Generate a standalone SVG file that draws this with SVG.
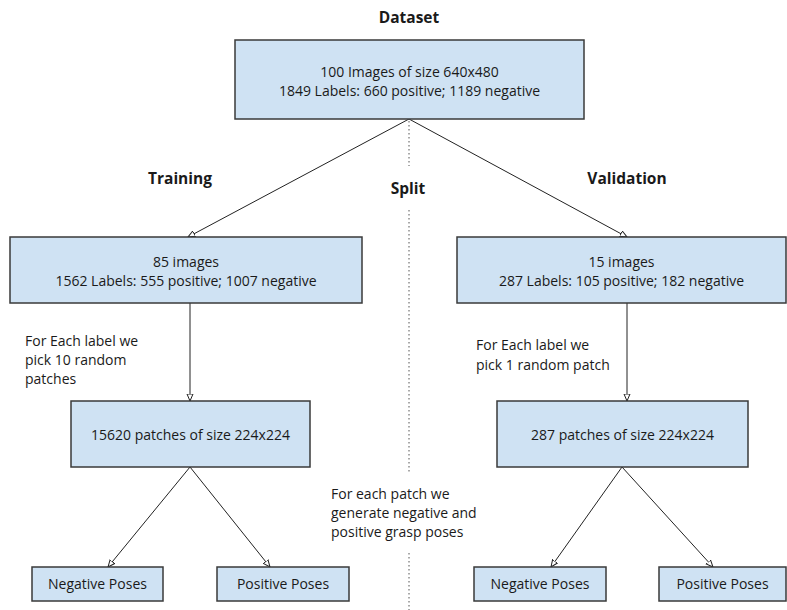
<svg xmlns="http://www.w3.org/2000/svg" width="787" height="610" viewBox="0 0 787 610">
<style>
.box{fill:#cfe2f3;stroke:#3a3a3a;stroke-width:1.5}
.t{font-family:"Open Sans","Liberation Sans",sans-serif;font-size:14px;fill:#1a1a1a;text-anchor:middle}
.p{font-family:"Open Sans","Liberation Sans",sans-serif;font-size:14px;fill:#1a1a1a}
.h{font-family:"Open Sans","Liberation Sans",sans-serif;font-size:15.5px;font-weight:bold;fill:#1a1a1a;text-anchor:middle}
.c{stroke:#222;stroke-width:1;fill:none;marker-end:url(#a)}
.d{stroke:#555;stroke-width:1;stroke-dasharray:1.5 2.5;fill:none}
</style>
<defs>
<marker id="a" markerWidth="8" markerHeight="8" refX="7" refY="4" orient="auto" markerUnits="userSpaceOnUse">
<path d="M0,1 L7,4 L0,7 Z" fill="#fff" stroke="#222" stroke-width="1"/>
</marker>
</defs>
<rect width="787" height="610" fill="#fff"/>
<g id="labels">
<text class="h" x="409" y="23">Dataset</text>
<text class="h" x="180" y="184">Training</text>
<text class="h" x="408" y="194">Split</text>
<text class="h" x="627" y="184">Validation</text>
<text class="p" x="25" y="346">For Each label we</text>
<text class="p" x="25" y="365">pick 10 random</text>
<text class="p" x="25" y="384">patches</text>
<text class="p" x="476" y="350">For Each label we</text>
<text class="p" x="476" y="370">pick 1 random patch</text>
<text class="p" x="331" y="499">For each patch we</text>
<text class="p" x="331" y="518">generate negative and</text>
<text class="p" x="331" y="537">positive grasp poses</text>
</g>
<g id="connectors">
<path class="d" d="M409,121 V166"/>
<path class="d" d="M409,210 V472"/>
<path class="d" d="M409,553 V610"/>
<path class="c" d="M409,119 L188,237"/>
<path class="c" d="M409,119 L627,237"/>
<path class="c" d="M190,303 V401"/>
<path class="c" d="M627,303 V401"/>
<path class="c" d="M190,467 L108,567"/>
<path class="c" d="M190,467 L270,567"/>
<path class="c" d="M622,467 L551,567"/>
<path class="c" d="M622,467 L713,567"/>
</g>
<g id="dataset">
<rect class="box" x="235" y="40" width="349" height="79"/>
<text class="t" x="409.5" y="77">100 Images of size 640x480</text>
<text class="t" x="409.5" y="96">1849 Labels: 660 positive; 1189 negative</text>
</g>
<g id="training">
<rect class="box" x="10" y="237" width="352" height="66"/>
<text class="t" x="186" y="267">85 images</text>
<text class="t" x="186" y="286">1562 Labels: 555 positive; 1007 negative</text>
</g>
<g id="validation">
<rect class="box" x="457" y="237" width="329" height="66"/>
<text class="t" x="621.5" y="267">15 images</text>
<text class="t" x="621.5" y="286">287 Labels: 105 positive; 182 negative</text>
</g>
<g id="train-patches">
<rect class="box" x="71" y="401" width="239" height="66"/>
<text class="t" x="190.5" y="440">15620 patches of size 224x224</text>
</g>
<g id="val-patches">
<rect class="box" x="497" y="401" width="251" height="66"/>
<text class="t" x="622.5" y="440">287 patches of size 224x224</text>
</g>
<g id="train-neg">
<rect class="box" x="32" y="567" width="131" height="34"/>
<text class="t" x="97.5" y="589">Negative Poses</text>
</g>
<g id="train-pos">
<rect class="box" x="217" y="567" width="132" height="34"/>
<text class="t" x="283" y="589">Positive Poses</text>
</g>
<g id="val-neg">
<rect class="box" x="474" y="567" width="132" height="34"/>
<text class="t" x="540" y="589">Negative Poses</text>
</g>
<g id="val-pos">
<rect class="box" x="659" y="567" width="127" height="34"/>
<text class="t" x="722.5" y="589">Positive Poses</text>
</g>
</svg>
